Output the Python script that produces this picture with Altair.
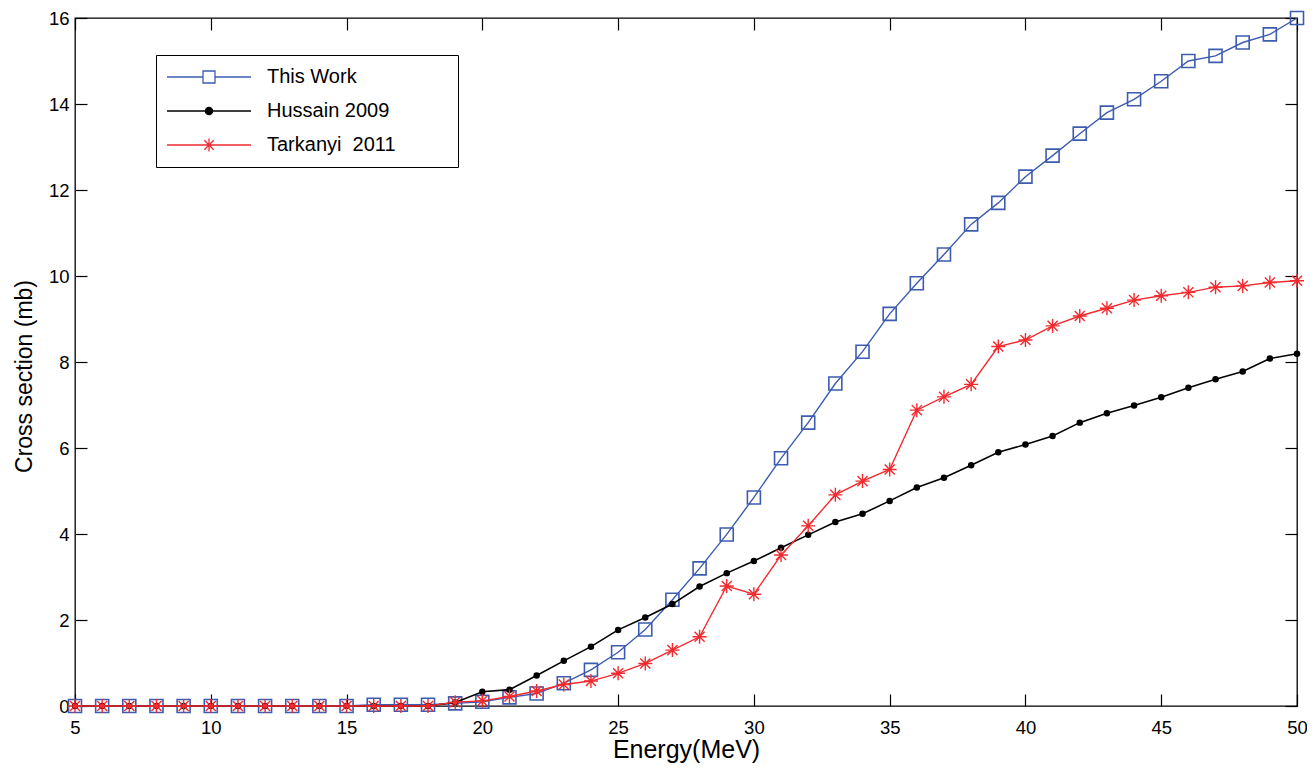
import altair as alt
import pandas as pd

energy = list(range(5, 51))

this_work = [0, 0, 0, 0, 0, 0, 0, 0, 0, 0, 0,
             0.03, 0.03, 0.03, 0.06, 0.10, 0.20, 0.29, 0.53, 0.84, 1.25,
             1.78, 2.47, 3.20, 3.99, 4.85, 5.76, 6.59, 7.50, 8.24, 9.12,
             9.83, 10.50, 11.20, 11.70, 12.31, 12.80, 13.31, 13.80, 14.11, 14.53,
             15.00, 15.12, 15.43, 15.62, 16.00]

hussain = [0, 0, 0, 0, 0, 0, 0, 0, 0, 0, 0, 0, 0, 0,
           0.08, 0.33, 0.38, 0.71, 1.05, 1.38, 1.77, 2.06, 2.37, 2.78,
           3.09, 3.37, 3.68, 3.98, 4.28, 4.47, 4.77, 5.08, 5.31, 5.60,
           5.90, 6.08, 6.28, 6.59, 6.81, 6.99, 7.18, 7.40, 7.60, 7.78,
           8.08, 8.19]

tarkanyi = [0, 0, 0, 0, 0, 0, 0, 0, 0, 0, 0, 0, 0, 0,
            0.09, 0.12, 0.22, 0.35, 0.50, 0.58, 0.76, 0.99, 1.30, 1.61,
            2.79, 2.60, 3.51, 4.19, 4.91, 5.23, 5.50, 6.88, 7.19, 7.48,
            8.36, 8.51, 8.84, 9.07, 9.25, 9.44, 9.54, 9.62, 9.74, 9.77,
            9.85, 9.89]

series_names = ["This Work", "Hussain 2009", "Tarkanyi\u00a0 2011"]
x_ticks = [5, 10, 15, 20, 25, 30, 35, 40, 45, 50]
y_ticks = [0, 2, 4, 6, 8, 10, 12, 14, 16]

BLUE = "#3D5CB0"
BLACK = "#000000"
RED = "#F02A2F"
FONT = "Liberation Sans"

rows = []
for name, vals in zip(series_names, [this_work, hussain, tarkanyi]):
    for e, v in zip(energy, vals):
        rows.append({"series": name, "energy": e, "cs": v})
df = pd.DataFrame(rows)

xscale = alt.Scale(domain=[5, 50], nice=False, zero=False)
yscale = alt.Scale(domain=[0, 16], nice=False)

ASTER = "M-1,0H1M0,-1V1M-0.72,-0.72L0.72,0.72M-0.72,0.72L0.72,-0.72"

base = alt.Chart(df)

axis_common = dict(tickSize=12, offset=-12, domain=False, grid=False,
                   tickColor="black", tickWidth=1.2, labelColor="black",
                   labelFont=FONT, titleFont=FONT, titleColor="black",
                   titleFontWeight="normal")

x_bottom = alt.X("energy:Q", scale=xscale,
                 axis=alt.Axis(orient="bottom", values=x_ticks, title="Energy(MeV)",
                               labelFontSize=18.5, titleFontSize=25, labelPadding=12,
                               titlePadding=1, labelFlush=False, **axis_common))
y_left = alt.Y("cs:Q", scale=yscale,
               axis=alt.Axis(orient="left", values=y_ticks, title="Cross section (mb)",
                             labelFontSize=18.5, titleFontSize=23, labelPadding=6,
                             titlePadding=12, titleY=358, labelFlush=False, **axis_common))
x_none = alt.X("energy:Q", scale=xscale, axis=None)
y_none = alt.Y("cs:Q", scale=yscale, axis=None)


def sfilter(name):
    return alt.datum.series == name


layers = []
# This Work
layers.append(base.transform_filter(sfilter(series_names[0]))
              .mark_line(color=BLUE, strokeWidth=1.4)
              .encode(x=x_bottom, y=y_left))
layers.append(base.transform_filter(sfilter(series_names[0]))
              .mark_point(shape="square", size=169, filled=False, color=BLUE,
                          strokeWidth=1.6, opacity=1)
              .encode(x=x_none, y=y_none))
# Hussain
layers.append(base.transform_filter(sfilter(series_names[1]))
              .mark_line(color=BLACK, strokeWidth=1.6)
              .encode(x=x_none, y=y_none))
layers.append(base.transform_filter(sfilter(series_names[1]))
              .mark_circle(size=42, color=BLACK, opacity=1)
              .encode(x=x_none, y=y_none))
# Tarkanyi
layers.append(base.transform_filter(sfilter(series_names[2]))
              .mark_line(color=RED, strokeWidth=1.4)
              .encode(x=x_none, y=y_none))
layers.append(base.transform_filter(sfilter(series_names[2]))
              .mark_point(shape=ASTER, size=196, filled=False, color=RED,
                          strokeWidth=1.4, opacity=1)
              .encode(x=x_none, y=y_none))

# legend + top/right axes layer (no marks drawn)
LEG_SQUARE = "M-7,0H-1M1,0H7M-1,-1H1V1H-1Z"
LEG_DOT = "M-7,0H7M0.6,0A0.6,0.6,0,1,1,-0.6,0A0.6,0.6,0,1,1,0.6,0Z"
LEG_STAR = "M-7,0H7M0,-1.1V1.1M-0.78,-0.78L0.78,0.78M-0.78,0.78L0.78,-0.78"

pad = "\u00a0" * 9 + "\u200b"
legend = alt.Legend(title=None, orient="none", legendX=81, legendY=37,
                    padding=12, symbolSize=144, symbolOffset=31, labelOffset=48,
                    symbolStrokeWidth=1.3, labelFont=FONT, labelFontSize=20,
                    labelColor="black", rowPadding=14, strokeColor="black",
                    fillColor="white", labelLimit=0,
                    labelExpr="datum.label + '" + pad + "'")

x_top = alt.X("energy:Q", scale=xscale,
              axis=alt.Axis(orient="top", values=x_ticks, labels=False, title=None,
                            **axis_common))
y_right = alt.Y("cs:Q", scale=yscale,
                axis=alt.Axis(orient="right", values=y_ticks, labels=False, title=None,
                              **axis_common))

legend_layer = (base.transform_filter("false")
                .mark_point(filled=False, opacity=1)
                .encode(
                    x=x_top, y=y_right,
                    shape=alt.Shape("series:N", scale=alt.Scale(domain=series_names,
                                    range=[LEG_SQUARE, LEG_DOT, LEG_STAR]), legend=legend),
                    stroke=alt.Stroke("series:N", scale=alt.Scale(domain=series_names,
                                      range=[BLUE, BLACK, RED]), legend=legend),
                    fill=alt.Fill("series:N", scale=alt.Scale(domain=series_names,
                                  range=["transparent", BLACK, "transparent"]), legend=legend),
                ))
layers.append(legend_layer)

chart = (alt.layer(*layers)
         .resolve_axis(x="independent", y="independent")
         .properties(width=1222, height=688,
                     autosize=alt.AutoSizeParams(type="none"),
                     padding={"left": 67, "top": 10, "right": 10, "bottom": 57},
                     background="white")
         .configure_view(stroke="black", strokeWidth=1.3)
         .configure_axis(grid=False))

chart.save("out.html", embed_options={"renderer": "svg", "actions": False})
